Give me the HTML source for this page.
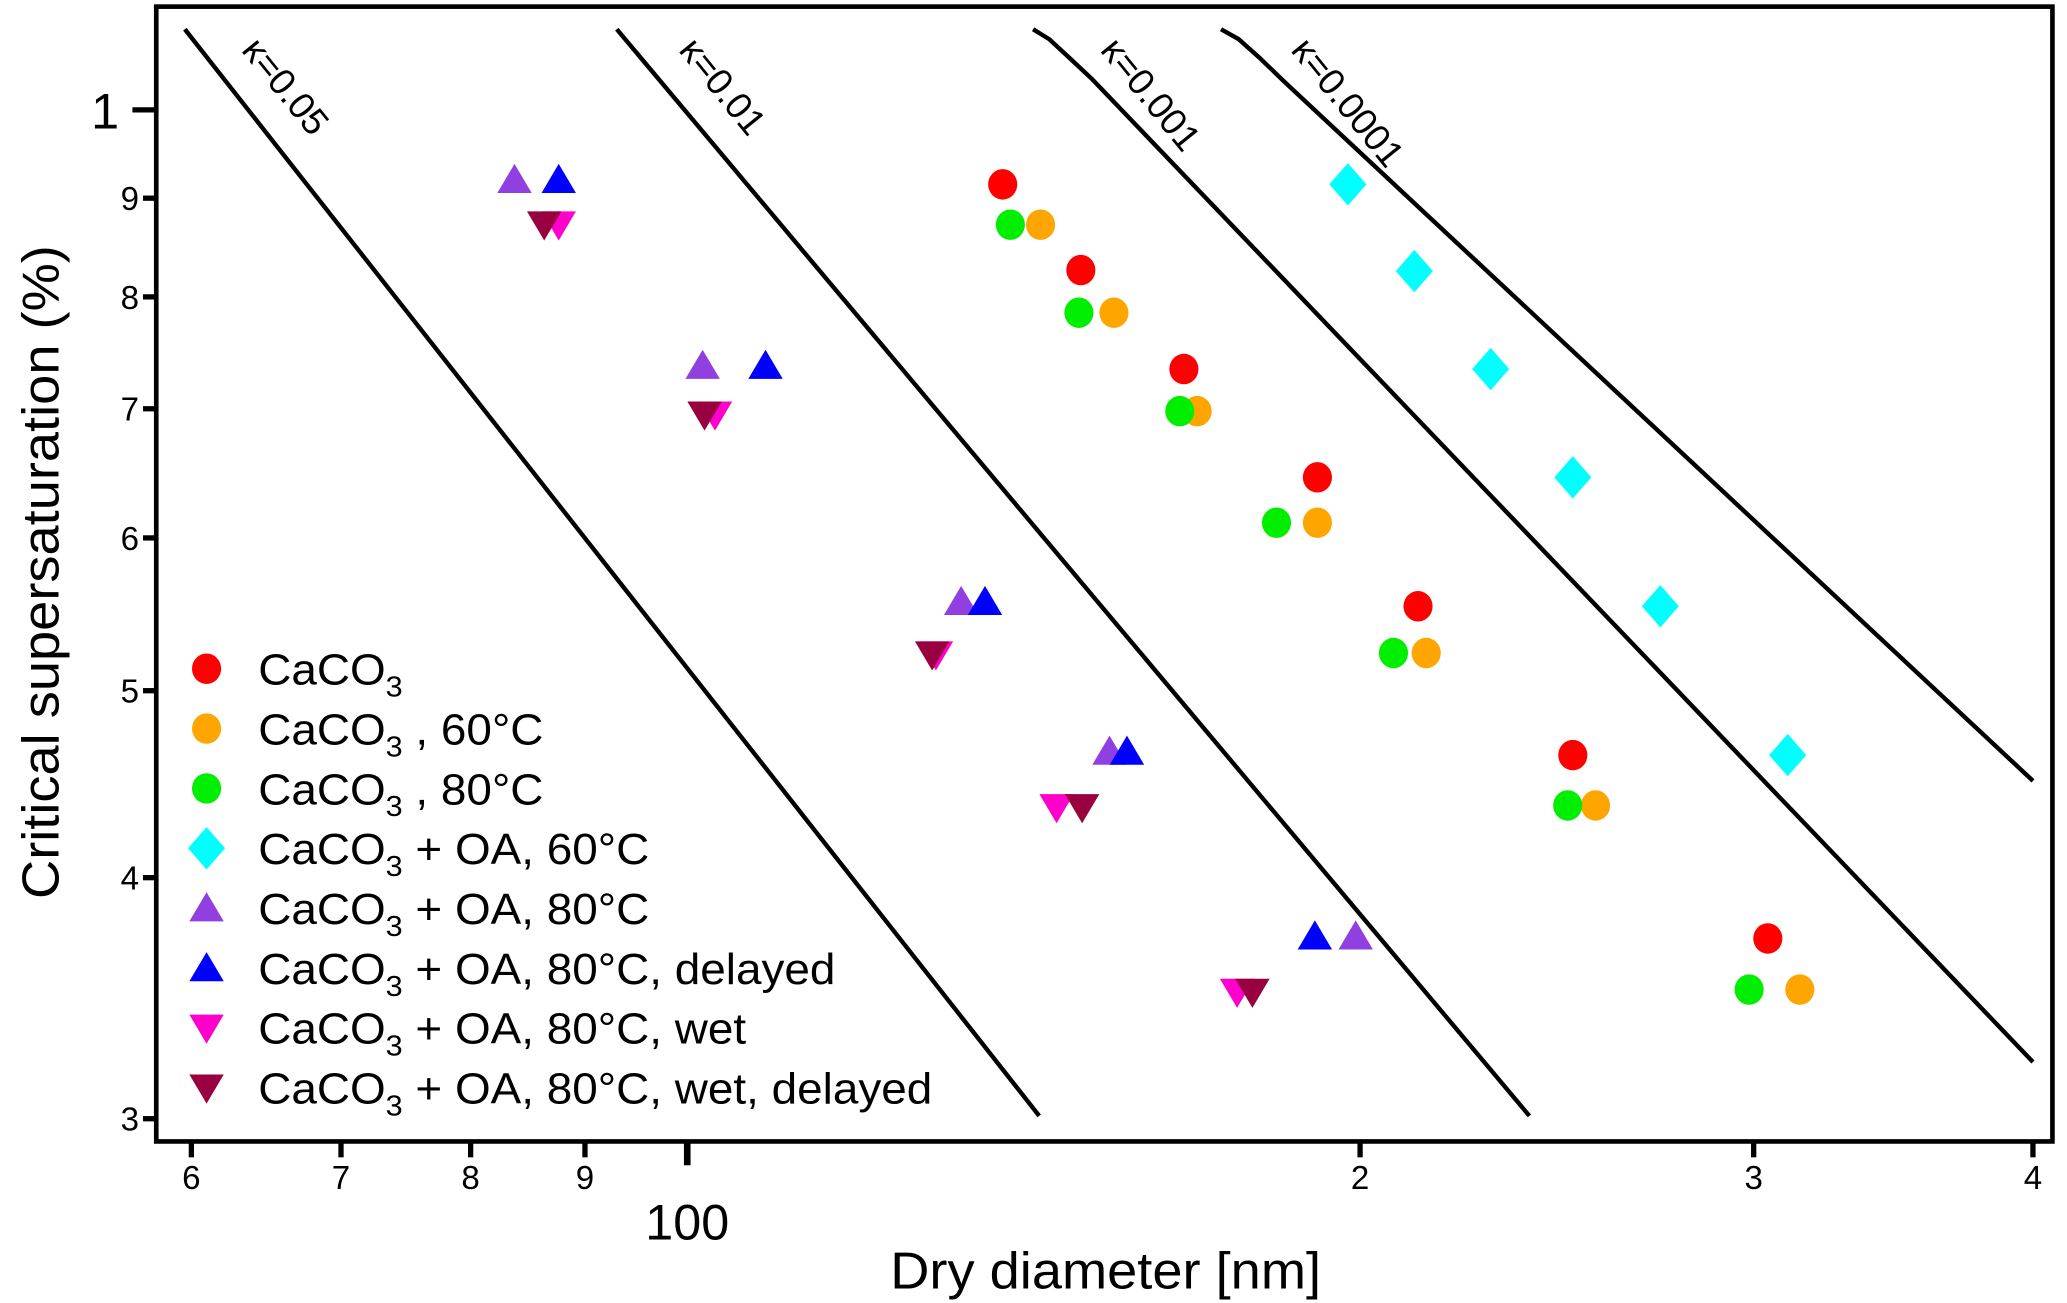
<!DOCTYPE html>
<html><head><meta charset="utf-8"><style>
html,body{margin:0;padding:0;background:#fff;}
svg{display:block;font-family:"Liberation Sans",Arial,sans-serif;}
</style></head><body>
<svg id="chart" width="2067" height="1303" viewBox="0 0 1561 984" preserveAspectRatio="none" xmlns="http://www.w3.org/2000/svg">
<rect x="0" y="0" width="1561" height="984" fill="#fff"/>
<g id="lines"></g>
<g id="marks"></g>
<rect x="118" y="5" width="1432" height="857" fill="none" stroke="#000" stroke-width="3.5"/>
<g id="axes"></g>
<text transform="translate(835,973) scale(1.05,1)" font-size="39" text-anchor="middle">Dry diameter [nm]</text>
<text transform="translate(44,432) rotate(-90) scale(1.05,1)" font-size="39" text-anchor="middle">Critical supersaturation (%)</text>
<g id="legend"></g>
</svg>
<script>
const NS="http://www.w3.org/2000/svg";
// data
const xTickValues=[60,70,80,90,100,200,300,400];
const xTickLabels=["6","7","8","9","100","2","3","4"];
const yTickValues=[1,0.9,0.8,0.7,0.6,0.5,0.4,0.3];
const yTickLabels=["1","9","8","7","6","5","4","3"];
const seriesNames=["CaCO3","CaCO3 60","CaCO3 80","OA60","OA80","OA80 delayed","OA80 wet","OA80 wet delayed"];
const redD=[138.4,150,166.8,191.4,212.3,249,304.4];
const redS=[0.915,0.826,0.734,0.645,0.553,0.463,0.372];
const orangeD=[143.9,155.2,169.1,191.4,214.1,254.9,314.6];
const orangeS=[0.872,0.785,0.698,0.611,0.523,0.436,0.35];
const greenD=[139.5,149.7,166.1,183.5,207,247.7,298.6];
const greenS=[0.872,0.785,0.698,0.611,0.523,0.436,0.35];
const cyanD=[197.5,211.5,228.8,249,272.5,310.7];
const cyanS=[0.915,0.825,0.734,0.645,0.553,0.463];
const purpleD=[83.7,101.6,132.6,154.5,199.1];
const purpleS=[0.92,0.737,0.556,0.465,0.373];
const blueD=[87.6,108.4,135.9,157.3,190.9];
const blueS=[0.92,0.737,0.556,0.465,0.373];
const magentaD=[87.6,102.9,129.2,146.3,176.2];
const magentaS=[0.872,0.695,0.522,0.435,0.349];
const darkD=[86.3,101.8,128.7,150.2,179];
const darkS=[0.872,0.695,0.522,0.435,0.349];
const kappaLabels=["κ=0.05","κ=0.01","κ=0.001","κ=0.0001"];
const k05D=[59.6,143.7], k05S=[1.101,0.301];
const k01D=[93.0,238.1], k01S=[1.101,0.301];
const k001D=[142.8,145.2,148.0,151.8,400], k001S=[1.101,1.088,1.066,1.037,0.321];
const k0001D=[173.3,176.5,180.5,185,400], k0001S=[1.101,1.088,1.063,1.034,0.449];

const X=d=>519+1688*Math.log10(d/100);
const Y=s=>83+1457*Math.log10(1/s);
function el(tag,attrs,parent){const e=document.createElementNS(NS,tag);for(const k in attrs)e.setAttribute(k,attrs[k]);parent.appendChild(e);return e;}

// kappa lines
const lg=document.getElementById('lines');
const kLines=[[k05D,k05S],[k01D,k01S],[k001D,k001S],[k0001D,k0001S]];
const kLabelOffsets=[[42,16],[46,16],[50,16],[52,16]];
kLines.forEach((L,i)=>{
  const pts=L[0].map((d,j)=>X(d).toFixed(1)+","+Y(L[1][j]).toFixed(1)).join(" ");
  const p=el('polyline',{points:pts,fill:'none',stroke:'#000','stroke-width':3.3,'stroke-linejoin':'round'},lg);
  
  
  const x0=X(L[0][0]), y0=Y(L[1][0]);
  const t=el('text',{transform:`translate(${x0+kLabelOffsets[i][0]},${y0+kLabelOffsets[i][1]}) rotate(51)`,'font-size':28},lg);
  t.textContent=kappaLabels[i];
  
  
});

// markers
const mg=document.getElementById('marks');
function marker(type,cx,cy,color,parent){
  let e;
  if(type==='circle') e=el('ellipse',{cx,cy,rx:11,ry:11.5,fill:color},parent);
  else if(type==='diamond') e=el('polygon',{points:`${cx},${cy-16} ${cx+14},${cy} ${cx},${cy+16} ${cx-14},${cy}`,fill:color},parent);
  else if(type==='up') e=el('polygon',{points:`${cx},${cy-12} ${cx+13},${cy+10} ${cx-13},${cy+10}`,fill:color},parent);
  else e=el('polygon',{points:`${cx-13},${cy-10} ${cx+13},${cy-10} ${cx},${cy+12}`,fill:color},parent);
  return e;
}
const series=[
  [orangeD,orangeS,'circle','#ffa500'],
  [greenD,greenS,'circle','#00ee00'],
  [redD,redS,'circle','#ff0000'],
  [cyanD,cyanS,'diamond','#00ffff'],
  [magentaD,magentaS,'down','#ff00cc'],
  [darkD,darkS,'down','#990040'],
  [purpleD,purpleS,'up','#9040e0'],
  [blueD,blueS,'up','#0000ff']
];
series.forEach((sr,i)=>{
  sr[0].forEach((d,j)=>{
    const m=marker(sr[2],X(d),Y(sr[1][j]),sr[3],mg);
    
    
  });
});

// axes
const ag=document.getElementById('axes');
xTickValues.forEach((v,i)=>{
  const x=X(v); const major=v===100;
  const l=el('line',{x1:x,x2:x,y1:862,y2:major?880:874,stroke:'#000','stroke-width':major?5:4},ag);
  
  
  const t=el('text',{x:x,y:major?936:898,'font-size':major?38:25,'text-anchor':'middle'},ag);
  t.textContent=xTickLabels[i];
  
  
});
yTickValues.forEach((v,i)=>{
  const y=Y(v); const major=v===1;
  const l=el('line',{x1:major?100:108,x2:118,y1:y,y2:y,stroke:'#000','stroke-width':4},ag);
  
  
  const t=el('text',{x:major?90:105,y:y+(major?14:9),'font-size':major?38:25,'text-anchor':'end'},ag);
  t.textContent=yTickLabels[i];
  
  
});

// legend
const leg=document.getElementById('legend');
const legTypes=['circle','circle','circle','diamond','up','up','down','down'];
const legColors=['#ff0000','#ffa500','#00ee00','#00ffff','#9040e0','#0000ff','#ff00cc','#990040'];
const legSuffix=[""," , 60°C"," , 80°C"," + OA, 60°C"," + OA, 80°C"," + OA, 80°C, delayed"," + OA, 80°C, wet"," + OA, 80°C, wet, delayed"];
legTypes.forEach((tp,i)=>{
  const y=505+45.2*i;
  const g=el('g',{},leg);
  
  
  marker(tp,156,y,legColors[i],g);
  const t=el('text',{transform:`translate(195,${y+12}) scale(1.05,1)`,'font-size':33},g);
  t.appendChild(document.createTextNode('CaCO'));
  const s=el('tspan',{dy:9,'font-size':22},t); s.textContent='3';
  const r=el('tspan',{dy:-9},t); r.textContent=legSuffix[i];
});
</script>
</body></html>
